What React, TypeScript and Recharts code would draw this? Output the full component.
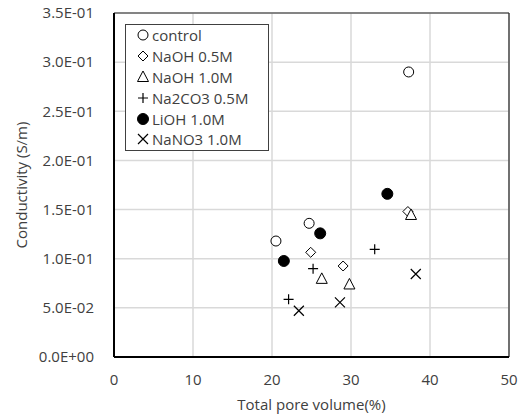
import React from 'react';
import { ScatterChart, Scatter, XAxis, YAxis, CartesianGrid, ReferenceLine } from 'recharts';

// values (x = total pore volume %, y = conductivity S/m)
const control = [
  { x: 20.5, y: 0.118 },
  { x: 24.7, y: 0.136 },
  { x: 37.3, y: 0.29 },
];
const naoh05 = [
  { x: 24.9, y: 0.1065 },
  { x: 29.0, y: 0.0926 },
  { x: 37.2, y: 0.148 },
];
const naoh10 = [
  { x: 26.3, y: 0.0795 },
  { x: 29.8, y: 0.0738 },
  { x: 37.6, y: 0.1445 },
];
const na2co3 = [
  { x: 22.1, y: 0.0587 },
  { x: 25.2, y: 0.0899 },
  { x: 33.0, y: 0.1096 },
];
const lioh = [
  { x: 21.5, y: 0.0977 },
  { x: 26.1, y: 0.1258 },
  { x: 34.6, y: 0.166 },
];
const nano3 = [
  { x: 23.4, y: 0.0471 },
  { x: 28.6, y: 0.0556 },
  { x: 38.2, y: 0.0844 },
];

const xTicks = [0, 10, 20, 30, 40, 50];
const yTicks = [0, 0.05, 0.1, 0.15, 0.2, 0.25, 0.3, 0.35];

const FONT = '"Open Sans", "Noto Sans", sans-serif';
const TEXT = '#404040';

const fmtSci = (v: number) => {
  const [m, e] = v.toExponential(1).split('e');
  const sign = e[0] === '-' ? '-' : '+';
  const digits = e.replace(/[+-]/, '').padStart(2, '0');
  return `${m}E${sign}${digits}`;
};

type Kind = 'circle' | 'diamond' | 'triangle' | 'plus' | 'filled' | 'cross';

const Marker = ({ kind, cx, cy }: { kind: Kind; cx: number; cy: number }) => {
  const s = 'black';
  switch (kind) {
    case 'circle':
      return <circle cx={cx} cy={cy} r={5} fill="white" stroke={s} strokeWidth={1} />;
    case 'filled':
      return <circle cx={cx} cy={cy} r={5.5} fill={s} stroke={s} />;
    case 'diamond':
      return <polygon points={`${cx},${cy - 5} ${cx + 5},${cy} ${cx},${cy + 5} ${cx - 5},${cy}`} fill="white" stroke={s} strokeWidth={1} />;
    case 'triangle':
      return <polygon points={`${cx},${cy - 6} ${cx + 5.5},${cy + 4.5} ${cx - 5.5},${cy + 4.5}`} fill="white" stroke={s} strokeWidth={1} />;
    case 'plus':
      return <path d={`M${cx - 5},${cy}H${cx + 5}M${cx},${cy - 5}V${cy + 5}`} stroke={s} strokeWidth={1.2} fill="none" />;
    case 'cross':
      return <path d={`M${cx - 5},${cy - 5}L${cx + 5},${cy + 5}M${cx + 5},${cy - 5}L${cx - 5},${cy + 5}`} stroke={s} strokeWidth={1.2} fill="none" />;
  }
  return null;
};

const shapeOf = (kind: Kind) => (props: any) => <Marker kind={kind} cx={props.cx} cy={props.cy} />;

const series: { name: string; data: { x: number; y: number }[]; kind: Kind }[] = [
  { name: 'control', data: control, kind: 'circle' },
  { name: 'NaOH 0.5M', data: naoh05, kind: 'diamond' },
  { name: 'NaOH 1.0M', data: naoh10, kind: 'triangle' },
  { name: 'Na2CO3 0.5M', data: na2co3, kind: 'plus' },
  { name: 'LiOH 1.0M', data: lioh, kind: 'filled' },
  { name: 'NaNO3 1.0M', data: nano3, kind: 'cross' },
];

const LegendBox = () => (
  <div style={{ position: 'absolute', left: 125, top: 24, width: 144, height: 127, border: '1px solid #404040', background: 'white', padding: '0', boxSizing: 'border-box' }}>
    {series.map(s => (
      <div key={s.name} style={{ display: 'flex', alignItems: 'center', height: 20.8, fontFamily: FONT, fontSize: 15, color: TEXT, lineHeight: '20px', whiteSpace: 'nowrap' }}>
        <svg width={26} height={20} style={{ flex: 'none' }}>
          <Marker kind={s.kind} cx={17} cy={10} />
        </svg>
        <span>{s.name}</span>
      </div>
    ))}
  </div>
);

export default function App() {
  return (
    <div style={{ position: 'absolute', left: 0, top: 0, width: 520, height: 420, background: 'white' }}>
      <ScatterChart width={520} height={420} margin={{ top: 13, right: 11, left: 0, bottom: 0 }}>
        <CartesianGrid stroke="#d9d9d9" strokeWidth={1.5} />
        <XAxis
          type="number"
          dataKey="x"
          domain={[0, 50]}
          ticks={xTicks}
          height={63}
          tickLine={false}
          tickSize={0}
          tickMargin={17}
          axisLine={{ stroke: 'black', strokeWidth: 2 }}
          tick={{ fill: TEXT, fontSize: 15, fontFamily: FONT }}
          label={{ value: 'Total pore volume(%)', position: 'insideBottom', offset: 10, fill: TEXT, fontSize: 15, fontFamily: FONT }}
        />
        <YAxis
          type="number"
          dataKey="y"
          domain={[0, 0.35]}
          ticks={yTicks}
          width={114}
          tickLine={false}
          tickSize={0}
          tickMargin={20}
          tickFormatter={fmtSci}
          axisLine={{ stroke: 'black', strokeWidth: 2 }}
          tick={{ fill: TEXT, fontSize: 15, fontFamily: FONT }}
          label={{ value: 'Conductivity (S/m)', angle: -90, position: 'center', dx: -35, fill: TEXT, fontSize: 15, fontFamily: FONT }}
        />
        <ReferenceLine y={0.35} stroke="#262626" strokeWidth={1.2} />
        <ReferenceLine x={50} stroke="#262626" strokeWidth={1.2} />
        {series.map(s => (
          <Scatter key={s.name} name={s.name} data={s.data} shape={shapeOf(s.kind)} isAnimationActive={false} />
        ))}
      </ScatterChart>
      <LegendBox />
    </div>
  );
}
